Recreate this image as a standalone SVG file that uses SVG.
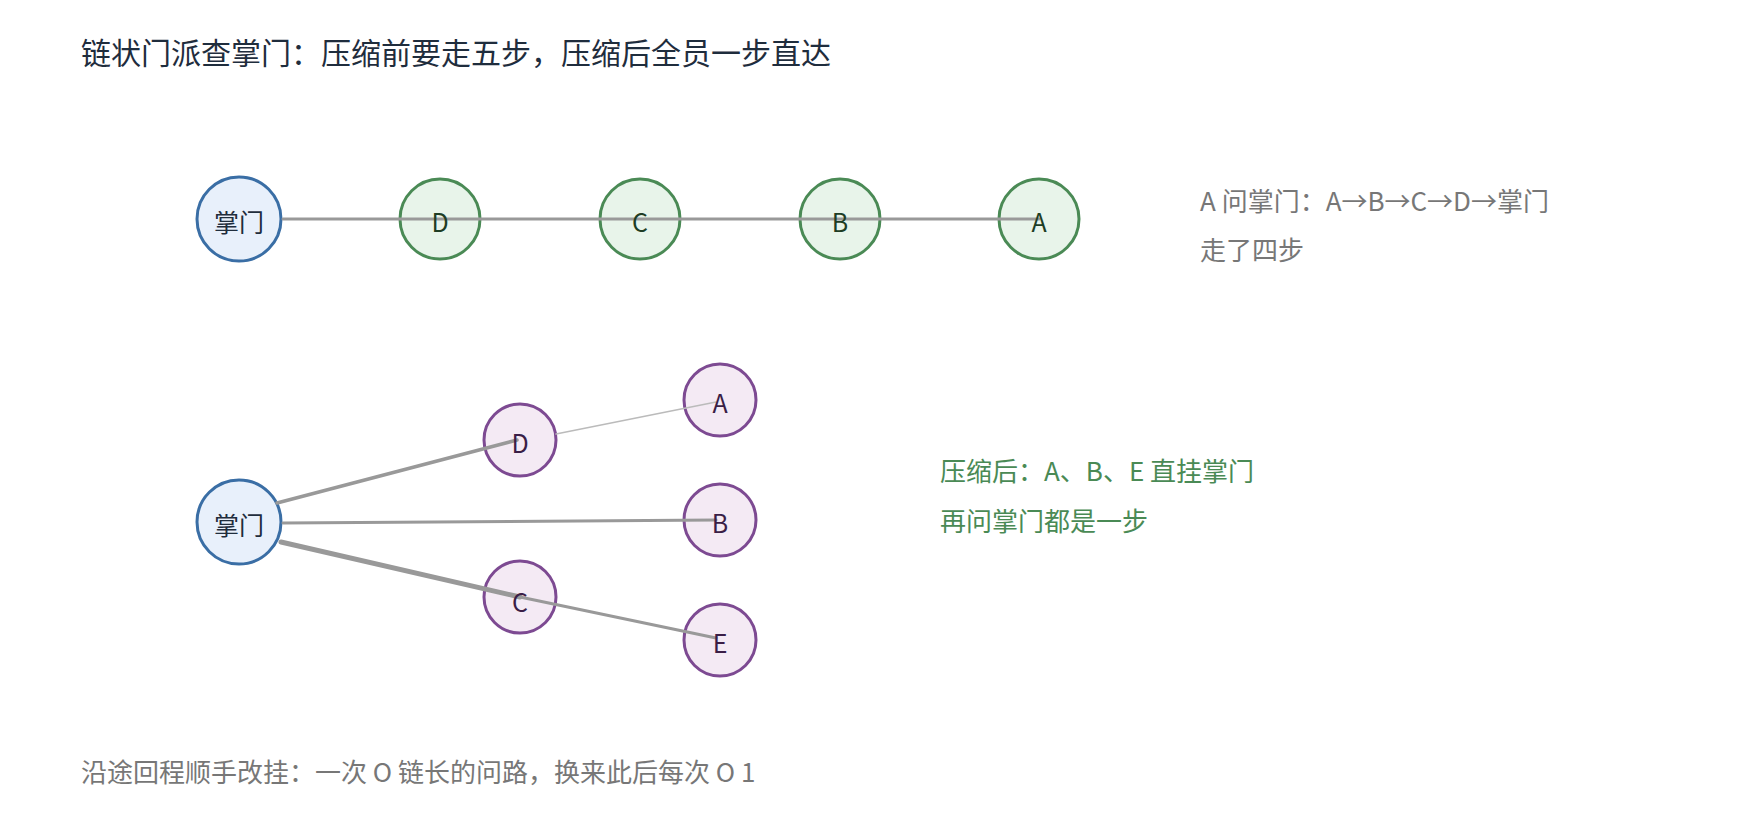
<svg xmlns="http://www.w3.org/2000/svg" width="1760" height="840" viewBox="0 0 1760 840">
<style>
text{font-family:"Noto Sans CJK SC","Noto Sans",sans-serif}
.t{font-size:30px;fill:#1f2d3d}
.lab{font-size:25px;text-anchor:middle;dominant-baseline:central}
.root circle{fill:#e8f0fb;stroke:#3a6ea5;stroke-width:3}
.root text{fill:#1f2d3d}
.g circle{fill:#e8f4ea;stroke:#4a8a55;stroke-width:3}
.g text{fill:#1e3d24}
.p circle{fill:#f4eaf4;stroke:#7d4a92;stroke-width:3}
.p text{fill:#3a1e46}
.note{font-size:26px;fill:#777}
.gn{font-size:26px;fill:#4a8a55}
line{stroke:#999;stroke-linecap:round}
</style>
<rect width="1760" height="840" fill="#fff"/>
<text class="t" x="81" y="64">链状门派查掌门：压缩前要走五步，压缩后全员一步直达</text>
<g id="top-root" class="root"><circle cx="239" cy="219" r="42"/></g>
<g id="top-D" class="g"><circle cx="440" cy="219" r="40"/></g>
<g id="top-C" class="g"><circle cx="640" cy="219" r="40"/></g>
<g id="top-B" class="g"><circle cx="840" cy="219" r="40"/></g>
<g id="top-A" class="g"><circle cx="1039" cy="219" r="40"/></g>
<g id="bot-root" class="root"><circle cx="239" cy="522" r="42"/></g>
<g id="bot-D" class="p"><circle cx="520" cy="440" r="36"/></g>
<g id="bot-A" class="p"><circle cx="720" cy="400" r="36"/></g>
<g id="bot-B" class="p"><circle cx="720" cy="520" r="36"/></g>
<g id="bot-C" class="p"><circle cx="520" cy="597" r="36"/></g>
<g id="bot-E" class="p"><circle cx="720" cy="640" r="36"/></g>
<g id="connectors">
<line x1="283" y1="219" x2="1039" y2="219" stroke-width="3"/>
<line x1="277" y1="503" x2="517" y2="440" stroke-width="3.5"/>
<line x1="556" y1="434" x2="716" y2="402" stroke-width="1.5" style="stroke:#bbb"/>
<line x1="283" y1="523" x2="716" y2="520" stroke-width="3"/>
<line x1="281" y1="542" x2="520" y2="597" stroke-width="5"/>
<line x1="520" y1="597" x2="716" y2="638" stroke-width="3"/>
</g>
<g id="labels">
<g class="root"><text class="lab" x="239" y="221">掌门</text><text class="lab" x="239" y="524">掌门</text></g>
<g class="g"><text class="lab" x="440" y="221">D</text><text class="lab" x="640" y="221">C</text><text class="lab" x="840" y="221">B</text><text class="lab" x="1039" y="221">A</text></g>
<g class="p"><text class="lab" x="520" y="442">D</text><text class="lab" x="720" y="402">A</text><text class="lab" x="720" y="522">B</text><text class="lab" x="520" y="601">C</text><text class="lab" x="720" y="642">E</text></g>
</g>
<text class="note" x="1200" y="211">A 问掌门：A→B→C→D→掌门</text>
<text class="note" x="1200" y="260">走了四步</text>
<text class="gn" x="940" y="481">压缩后：A、B、E 直挂掌门</text>
<text class="gn" x="940" y="531">再问掌门都是一步</text>
<text class="note" x="81" y="782">沿途回程顺手改挂：一次 O 链长的问路，换来此后每次 O 1</text>
</svg>
